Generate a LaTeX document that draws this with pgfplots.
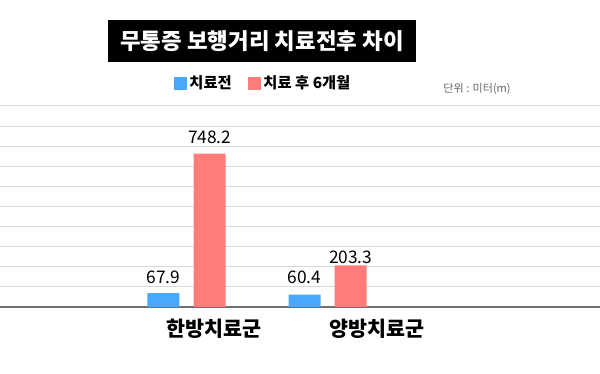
\documentclass[border=0pt]{standalone}
\usepackage{pgfplots}
\pgfplotsset{compat=1.18}
\usepackage{fontspec}
\setmainfont{Noto Sans CJK KR}
\definecolor{barblue}{HTML}{48A8FF}
\definecolor{barred}{HTML}{FF7C7A}
\definecolor{gridgray}{HTML}{D9D9D9}
\definecolor{basegray}{HTML}{707070}
\definecolor{unitgray}{HTML}{666666}
\begin{document}
\begin{tikzpicture}[x=0.75pt,y=0.75pt]
\path[use as bounding box] (0,-67) rectangle (600,307);
\begin{axis}[
  at={(0,0)}, anchor=south west,
  scale only axis, width=450pt, height=150.75pt,
  xmin=0, xmax=600, ymin=0, ymax=981,
  clip=false,
  axis line style={draw=none},
  major tick length=0pt,
  ytick={98.1,196.2,294.3,392.4,490.5,588.6,686.7,784.8,882.9,981},
  yticklabels={},
  ymajorgrids,
  grid style={gridgray, line width=0.75pt},
  extra y ticks={0},
  extra y tick labels={},
  extra y tick style={grid style={basegray, line width=1.9pt}},
  xtick={214,377},
  xticklabels={한방치료군,양방치료군},
  xticklabel style={font=\fontsize{15.5}{17}\selectfont\bfseries, anchor=center, yshift=-16.5pt},
  ybar, bar shift=0pt, bar width=32,
  legend columns=2,
  legend style={at={(0.439,1.114)}, anchor=center, draw=none, fill=none,
    font=\fontsize{11.5}{13}\selectfont\bfseries,
    /tikz/every even column/.append style={column sep=10pt},
    inner sep=0pt},
  legend image code/.code={\fill[#1] (0pt,-4.9pt) rectangle (9.75pt,4.9pt);},
]
\addplot[draw=none, fill=barblue] coordinates {(163.3,67.9) (304.5,60.4)};
\addlegendentry{치료전}
\addplot[draw=none, fill=barred] coordinates {(209.7,748.2) (350.7,203.3)};
\addlegendentry{치료 후 6개월}
\begin{scope}[every node/.style={font=\fontsize{13}{15}\selectfont, anchor=base, inner sep=0pt}]
\node at (axis cs:163.3,115.7) {67.9};
\node at (axis cs:209.7,799) {748.2};
\node at (axis cs:304.5,115.7) {60.4};
\node at (axis cs:350.7,213.3) {203.3};
\end{scope}
\end{axis}
\fill[black] (108,245) rectangle (416,287);
\node[text=white, font=\fontsize{16.8}{19}\selectfont\bfseries, inner sep=0pt] at (262,266) {무통증 보행거리 치료전후 차이};
\node[text=unitgray, font=\fontsize{8.3}{10}\selectfont, anchor=east, inner sep=0pt] at (511,218) {단위 : 미터(m)};
\end{tikzpicture}
\end{document}
